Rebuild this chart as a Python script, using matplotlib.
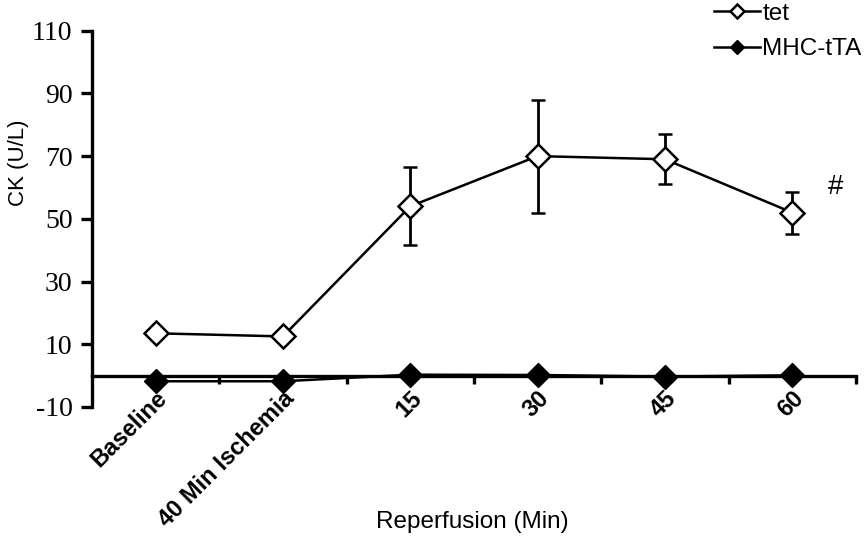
import numpy as np
import matplotlib.pyplot as plt

categories = ["Baseline", "40 Min Ischemia", "15", "30", "45", "60"]
tet = [13.5, 12.5, 54, 70, 69, 52]
tet_err = [0, 0, 12.5, 18, 8, 6.7]
mhc = [-1.8, -1.8, 0.3, 0.2, -0.3, 0.1]

plt.rcParams['font.family'] = ['Liberation Sans', 'DejaVu Sans']

fig = plt.figure(figsize=(8.68, 5.43), dpi=100)
ax = fig.add_axes([0.106, 0.2505, 0.88, 0.693])

# spine moved first, it resets the ticks
for s in ["top", "right"]:
    ax.spines[s].set_visible(False)
ax.spines["bottom"].set_position(("data", 0))
ax.spines["left"].set_linewidth(2.4)
ax.spines["bottom"].set_linewidth(2.4)

x = np.arange(len(categories)) + 0.5
h1 = ax.errorbar(x, tet, yerr=tet_err, color="black", lw=1.8, elinewidth=2,
                 capsize=5, capthick=2.4, marker="D", ms=12, mfc="white",
                 mec="black", mew=1.8, zorder=3)
h2, = ax.plot(x, mhc, color="black", lw=1.8, marker="D", ms=12, mfc="black",
              mec="black", zorder=3)

ax.set_xlim(0, 6)
ax.set_ylim(-10, 110)
ax.set_yticks(np.arange(-10, 111, 20))
ax.set_yticklabels([str(v) for v in range(-10, 111, 20)],
                   family="Liberation Serif", fontsize=20)
ax.set_xticks(x)
ax.set_xticklabels(categories, rotation=45, ha="right",
                   rotation_mode="anchor", fontsize=17, fontweight="bold")
ax.set_xticks(np.arange(1, 7), minor=True)
ax.tick_params(axis="x", which="major", length=0, pad=8)
ax.tick_params(axis="x", which="minor", length=6, width=2.4, direction="out")
ax.tick_params(axis="y", length=8, width=2.4, direction="out", pad=6)

ax.text(5.84, 60, "#", fontsize=20, ha="center", va="center")

fig.text(0.021, 1 - 163 / 543, "CK (U/L)", rotation=90, fontsize=16,
         ha="center", va="center")
fig.text(472 / 868, 1 - 522 / 543, "Reperfusion (Min)", fontsize=17.5,
         ha="center", va="center")

h1_line = h1.lines[0]
fig.legend([h1_line, h2], ["tet", "MHC-tTA"], loc="upper right",
           bbox_to_anchor=(1.018, 1.035), frameon=False, fontsize=17.5,
           handlelength=1.9, handletextpad=0.1, labelspacing=0.55,
           markerscale=0.6)

fig.savefig("out.png", dpi=100)
